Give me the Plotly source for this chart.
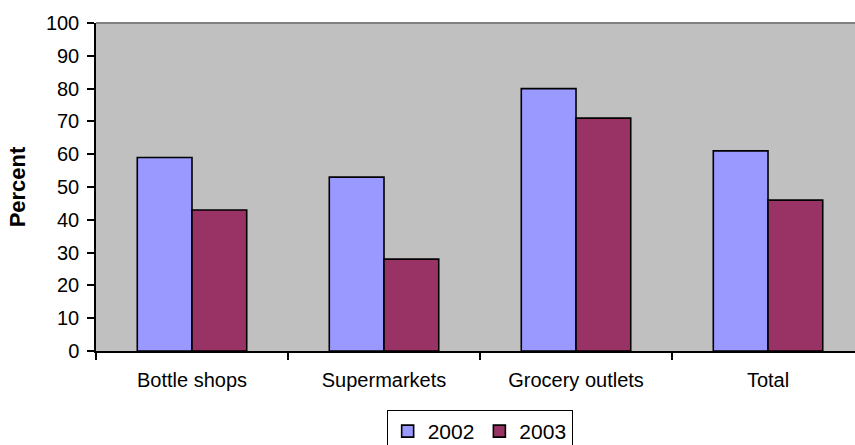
import plotly.graph_objects as go

categories = ["Bottle shops", "Supermarkets", "Grocery outlets", "Total"]
values_2002 = [59, 53, 80, 61]
values_2003 = [43, 28, 71, 46]
y_ticks = [0, 10, 20, 30, 40, 50, 60, 70, 80, 90, 100]

FONT = "Liberation Sans, Arial, sans-serif"

fig = go.Figure()
fig.add_trace(go.Bar(name="2002", x=categories, y=values_2002,
                     marker=dict(color="#9999FF", line=dict(color="black", width=1.6))))
fig.add_trace(go.Bar(name="2003", x=categories, y=values_2003,
                     marker=dict(color="#993366", line=dict(color="black", width=1.6))))

fig.update_layout(
    width=855, height=445,
    margin=dict(l=96, r=0, t=23, b=94),
    paper_bgcolor="white",
    plot_bgcolor="#C0C0C0",
    barmode="group",
    bargap=0.43,
    bargroupgap=0,
    font=dict(family=FONT, size=20, color="black"),
    showlegend=True,
    legend=dict(
        orientation="h",
        xref="container", yref="container",
        x=0.561, xanchor="center",
        y=1 - 410 / 445, yanchor="top",
        bordercolor="black", borderwidth=1,
        bgcolor="white",
        font=dict(size=21),
        itemwidth=30,
        tracegroupgap=0,
    ),
    xaxis=dict(
        range=[-0.5, 3.453],
        showgrid=False,
        showline=True, linecolor="black", linewidth=1.5,
        ticks="outside", tickson="boundaries", ticklen=7, tickcolor="black", tickwidth=1.5,
        tickfont=dict(size=20),
        ticklabelstandoff=10,
        zeroline=False,
    ),
    yaxis=dict(
        range=[0, 100],
        tickvals=y_ticks,
        showgrid=False,
        showline=True, linecolor="black", linewidth=1.5,
        ticks="outside", ticklen=7, tickcolor="black", tickwidth=1.5,
        tickfont=dict(size=20),
        ticklabelstandoff=4,
        zeroline=False,
        title=dict(text="<b>Percent</b>", font=dict(size=22), standoff=14),
    ),
    shapes=[dict(type="line", xref="paper", yref="paper", x0=0, x1=1, y0=1, y1=1,
                 line=dict(color="#808080", width=2))],
)

fig.write_html("out.html")
